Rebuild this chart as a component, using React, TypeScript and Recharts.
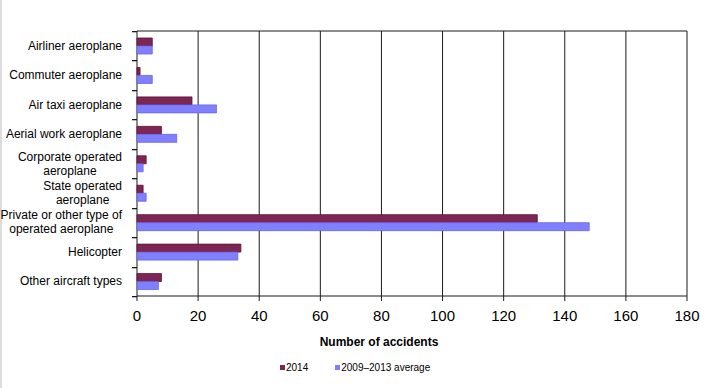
import { BarChart, Bar, XAxis, YAxis, CartesianGrid } from 'recharts';

const categories = [
  'Airliner aeroplane',
  'Commuter aeroplane',
  'Air taxi aeroplane',
  'Aerial work aeroplane',
  'Corporate operated\naeroplane',
  'State operated\naeroplane',
  'Private or other type of\noperated aeroplane',
  'Helicopter',
  'Other aircraft types',
];
const accidents2014 = [5, 1, 18, 8, 3, 2, 131, 34, 8];
const average0913 = [5, 5, 26, 13, 2, 3, 148, 33, 7];
const xTicks = [0, 20, 40, 60, 80, 100, 120, 140, 160, 180];

const chartData = categories.map((name, i) => ({
  name,
  y2014: accidents2014[i],
  avg: average0913[i],
}));

const FONT = '"Liberation Sans", Arial, sans-serif';
const LABEL_GAP = 15;

let ctx: CanvasRenderingContext2D | null = null;
const measure = (text: string) => {
  if (!ctx) ctx = document.createElement('canvas').getContext('2d');
  if (!ctx) return text.length * 6;
  ctx.font = `12px ${FONT}`;
  return ctx.measureText(text).width;
};

// multi-line category labels (lines centred on each other, block right-aligned)
// plus the small tick marks that sit on the category boundaries
const CategoryTick = (props: any) => {
  const { x, y, payload, index, visibleTicksCount, height } = props;
  const lines: string[] = String(payload.value).split('\n');
  const maxW = Math.max(...lines.map(measure));
  const cx = x - maxW / 2;
  const lh = 14;
  const startY = y - ((lines.length - 1) * lh) / 2;
  const axisX = x + LABEL_GAP;
  const count = visibleTicksCount || categories.length;
  const half = payload.offset > 0 ? payload.offset : height / count / 2;
  const isLast = index === count - 1;
  return (
    <g>
      <rect x={axisX - 5} y={Math.round(y - half)} width={5} height={1.3} fill="#1a1a1a" />
      {isLast && <rect x={axisX - 5} y={Math.round(y + half)} width={5} height={1.3} fill="#1a1a1a" />}
      <text fontSize={12} fontFamily={FONT} fill="#000" textAnchor="middle" dominantBaseline="central">
        {lines.map((l, i) => (
          <tspan key={i} x={cx} y={startY + i * lh}>
            {l}
          </tspan>
        ))}
      </text>
    </g>
  );
};

export default function App() {
  return (
    <div style={{ position: 'absolute', left: 0, top: 0, width: 720, height: 388, background: '#fff', fontFamily: FONT }}>
      <div style={{ position: 'absolute', left: 0, top: 0, width: 2, height: 388, background: '#dcdcdc' }} />
      <BarChart
        layout="vertical"
        width={720}
        height={388}
        data={chartData}
        margin={{ top: 31, right: 33, bottom: 42, left: 0 }}
        barSize={8}
        barGap={0}
      >
        <CartesianGrid
          stroke="#1a1a1a"
          horizontalCoordinatesGenerator={({ offset }: any) => [offset.top]}
        />
        <XAxis
          type="number"
          domain={[0, 180]}
          ticks={xTicks}
          interval={0}
          height={50}
          stroke="#1a1a1a"
          tickSize={5}
          tickMargin={9}
          tick={{ fill: '#000', fontSize: 15, fontFamily: FONT }}
          label={{
            value: 'Number of accidents',
            position: 'insideBottom',
            offset: 0,
            dx: -33,
            style: { fontSize: 12, fontWeight: 700, fill: '#000', fontFamily: FONT },
          }}
        />
        <YAxis
          type="category"
          dataKey="name"
          width={137}
          axisLine={false}
          tickLine={false}
          tickSize={0}
          tickMargin={LABEL_GAP}
          interval={0}
          tick={<CategoryTick />}
        />
        <Bar dataKey="y2014" fill="#7d2652" stroke="#5e1038" strokeWidth={0.8} isAnimationActive={false} />
        <Bar dataKey="avg" fill="#8080ff" stroke="#6565f0" strokeWidth={0.8} isAnimationActive={false} />
      </BarChart>
      <div
        style={{
          position: 'absolute',
          top: 362,
          left: 280,
          display: 'flex',
          alignItems: 'center',
          fontSize: 10,
          color: '#000',
        }}
      >
        <span style={{ width: 5, height: 5, background: '#7d2652', marginRight: 1 }} />
        <span>2014</span>
        <span style={{ width: 5, height: 5, background: '#8080ff', marginLeft: 27, marginRight: 1 }} />
        <span>2009–2013 average</span>
      </div>
    </div>
  );
}
